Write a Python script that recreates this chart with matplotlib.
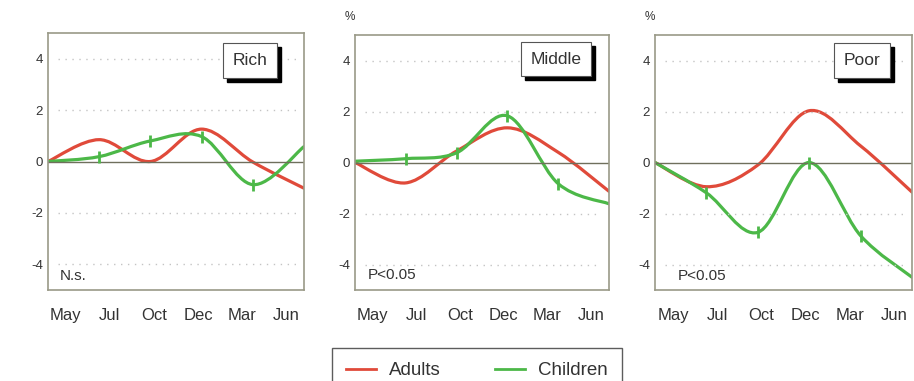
import numpy as np
import matplotlib
matplotlib.use("Agg")
import matplotlib.pyplot as plt
from matplotlib.path import Path
from matplotlib.patches import PathPatch, Rectangle
from matplotlib.lines import Line2D

plt.rcParams['font.family'] = ['Liberation Sans', 'DejaVu Sans']

# ---- data ----
months = ["May", "Jul", "Oct", "Dec", "Mar", "Jun"]
panels = ["Rich", "Middle", "Poor"]
stats = ["N.s.", "P<0.05", "P<0.05"]
adults_rich = [0.0, 0.85, 0.0, 1.26, -0.02, -1.04]
children_rich = [0.0, 0.19, 0.80, 0.97, -0.90, 0.58]
adults_middle = [0.0, -0.80, 0.45, 1.36, 0.40, -1.13]
children_middle = [0.05, 0.15, 0.38, 1.83, -0.83, -1.62]
adults_poor = [0.0, -0.95, -0.10, 2.03, 0.65, -1.16]
children_poor = [0.0, -1.19, -2.74, 0.0, -2.87, -4.50]
series_labels = ["Adults", "Children"]

adults = [adults_rich, adults_middle, adults_poor]
children = [children_rich, children_middle, children_poor]

RED = "#e04a3a"
GREEN = "#4cb848"
TXT = "#333333"
FRAME = "#9a9a88"

def smooth_patch(x, y, color):
    n = len(x)
    verts = [(x[0], y[0])]
    codes = [Path.MOVETO]
    for i in range(n - 1):
        p0 = i - 1 if i > 0 else i
        p3 = i + 2 if i + 2 < n else i + 1
        c1 = (x[i] + (x[i + 1] - x[p0]) / 6.0, y[i] + (y[i + 1] - y[p0]) / 6.0)
        c2 = (x[i + 1] - (x[p3] - x[i]) / 6.0, y[i + 1] - (y[p3] - y[i]) / 6.0)
        verts += [c1, c2, (x[i + 1], y[i + 1])]
        codes += [Path.CURVE4] * 3
    return PathPatch(Path(verts, codes), fill=False, edgecolor=color, lw=2.3,
                     capstyle='round', joinstyle='round')

W, H = 914, 381
fig = plt.figure(figsize=(W / 100, H / 100), dpi=100)
fig.patch.set_facecolor("white")

boxes_px = [(48, 33, 304, 290), (355, 35, 609, 290), (655, 35, 912, 290)]
stat_pos = [(0.047, 0.055), (0.05, 0.06), (0.09, 0.055)]
title_pos = [(0.79, 0.893), (0.79, 0.905), (0.807, 0.90)]

xpos = np.arange(len(months))
label_pos = np.linspace(0.35, 4.65, len(months))

title_anchor = []
for k, (l, t, r, b) in enumerate(boxes_px):
    ax = fig.add_axes([l / W, 1 - b / H, (r - l) / W, (b - t) / H])
    ax.set_xlim(0, 5)
    ax.set_ylim(-5, 5)
    for s in ax.spines.values():
        s.set_color(FRAME)
        s.set_linewidth(1.2)
    for g in [-4, -2, 2, 4]:
        ax.axhline(g, color="#c4c4c4", lw=1.0, ls=(0, (1, 4)), xmin=0.04, xmax=0.97)
    ax.axhline(0, color="#6f6f5c", lw=1.0)
    ax.set_yticks([-4, -2, 0, 2, 4])
    ax.set_yticklabels(["-4", "-2", "0", "2", "4"])
    ax.set_xticks(label_pos)
    ax.set_xticklabels(months)
    ax.tick_params(axis='x', length=0, pad=13, labelsize=12, labelcolor=TXT)
    ax.tick_params(axis='y', length=0, pad=3.5, labelsize=9.5, labelcolor=TXT)

    ax.add_patch(smooth_patch(xpos, adults[k], RED))
    ax.add_patch(smooth_patch(xpos, children[k], GREEN))
    ax.plot(xpos[1:5], children[k][1:5], ls='none', marker='|', ms=9, mew=2,
            color=GREEN)

    ax.text(stat_pos[k][0], stat_pos[k][1], stats[k], transform=ax.transAxes,
            ha='left', va='center', fontsize=11, color=TXT)

    disp = ax.transAxes.transform(title_pos[k])
    title_anchor.append(fig.transFigure.inverted().transform(disp))

    if k > 0:
        fig.text((l - 5) / W, 1 - 17 / H, "%", ha='center', va='center',
                 fontsize=8.5, color=TXT)

# title boxes with drop shadows (figure layer)
title_texts = []
for k, (fx, fy) in enumerate(title_anchor):
    tt = fig.text(fx, fy, panels[k], ha='center', va='center', fontsize=12.5,
                  color=TXT, zorder=10,
                  bbox=dict(boxstyle='square,pad=0.55', fc='white', ec='#555555', lw=0.8))
    title_texts.append(tt)

fig.canvas.draw()
renderer = fig.canvas.get_renderer()
inv = fig.transFigure.inverted()
for tt in title_texts:
    bb = tt.get_bbox_patch().get_window_extent(renderer)
    (x0, y0), (x1, y1) = inv.transform([(bb.x0 + 4, bb.y0 - 4), (bb.x1 + 4, bb.y1 - 4)])
    fig.add_artist(Rectangle((x0, y0), x1 - x0, y1 - y0, transform=fig.transFigure,
                             fc='black', ec='black', zorder=5))

handles = [Line2D([], [], color=RED, lw=2.0), Line2D([], [], color=GREEN, lw=2.0)]
leg = fig.legend(handles, series_labels, ncol=2, loc='upper center',
                 bbox_to_anchor=(477 / W, 1 - 348 / H), fontsize=13.5,
                 handlelength=1.6, handletextpad=0.7, columnspacing=2.9,
                 borderpad=0.75, borderaxespad=0, fancybox=False, frameon=True)
leg.get_frame().set_edgecolor("#333333")
leg.get_frame().set_linewidth(1.0)
for txt in leg.get_texts():
    txt.set_color(TXT)

fig.savefig("out.png", dpi=100)
